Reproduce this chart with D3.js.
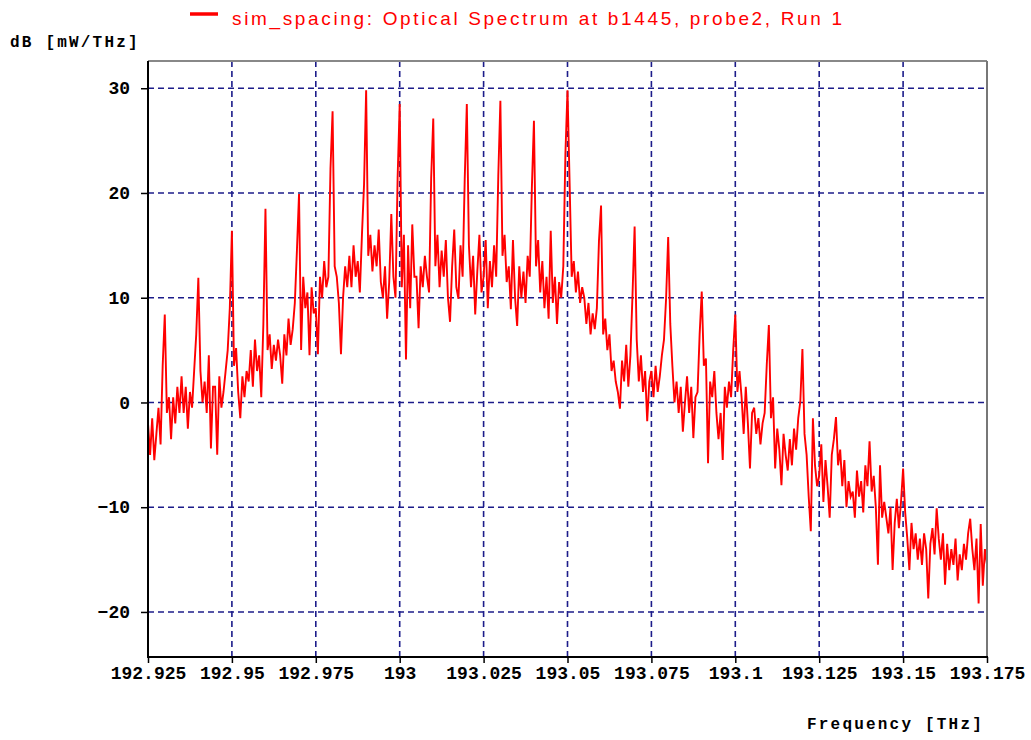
<!DOCTYPE html>
<html>
<head>
<meta charset="utf-8">
<style>
  body { margin: 0; background: #fff; }
  .grid line { stroke: #1c1c8a; stroke-width: 1.6px; stroke-dasharray: 6,4; }
  .axis text { font-family: "Liberation Mono", monospace; font-weight: bold; font-size: 18px; fill: #000; }
  .axis line { stroke: #000; stroke-width: 1.5px; }
  .axis path { display: none; }
  .label { font-family: "Liberation Mono", monospace; font-weight: bold; font-size: 16px; letter-spacing: 2.2px; fill: #000; }
  .title { font-family: "Liberation Sans", Arial, sans-serif; font-size: 19px; fill: #ff0000; }
  .trace { fill: none; stroke: #ff0000; stroke-width: 1.9px; stroke-linejoin: miter; }
</style>
</head>
<body>
<svg width="1031" height="740"></svg>
<script src="https://d3js.org/d3.v7.min.js"></script>
<script>
// frequency grid of the trace (THz)
var freqStart = 192.925,
    freqStep = 0.000625;

// power in dB [mW/THz], 16 samples per 0.01 THz, carrier at the 9th sample of each row
var powerDb = [
  -2, -5, -1.5, -5.5, -3, -0.5, -4, 3.5, 8.4, -1, 0.5, -3.5, 0.5, -2, 1.5, -1,
  2.5, -1, 1.5, -2.5, 1, -0.5, 3, 6.5, 11.9, 3, 0, 2, -1, 4.5, -4.4, 1.5,
  1.5, -5, 2.5, -0.5, 1, 3, 5, 9, 16.4, 3.5, 5.2, 1, -1.5, 2.5, 0.5, 3,
  2, 5, 1.5, 6, 3, 4.5, 0.5, 7.5, 18.5, 5, 6.5, 3.2, 5.5, 4, 6, 4.5,
  1.8, 6.5, 4.5, 8, 5.5, 7, 9.5, 14.5, 19.9, 5, 12, 9, 10.5, 4.5, 11, 8.5,
  9, 4.6, 12, 10, 13.5, 11, 12, 22.3, 27.8, 13, 12, 9.5, 4.6, 10, 13, 11,
  14, 11, 15, 12, 13.5, 10.5, 16, 20.8, 29.8, 14, 16, 12.5, 15, 13, 16.5, 11.5,
  10, 13, 8, 11.5, 18, 12, 10, 21.4, 28.5, 11, 16, 4.1, 15, 9, 17, 12,
  12, 7.1, 13, 11, 14, 12, 10.5, 21.4, 27.1, 13, 16, 11, 14.5, 12, 15.5, 10,
  7.7, 13, 16.5, 11, 9.9, 15, 12, 21.3, 28.5, 15, 11, 14, 8.4, 12.5, 16, 10.5,
  12, 15.5, 9, 13.5, 11, 15, 12, 21.6, 28.8, 14, 16, 11.5, 13, 8.9, 15.5, 10,
  7.3, 13, 10, 12.5, 9.5, 14, 12, 20.4, 26.9, 13, 15.5, 10.5, 13.5, 9, 12, 8,
  16.4, 9.5, 12, 7.5, 11.5, 10, 13, 23.7, 29.8, 21, 12, 13.5, 10.5, 12.5, 9.5, 11,
  10, 7.5, 9.5, 6.5, 8.5, 7, 9, 15.4, 18.8, 6.5, 8, 5, 6.5, 3, 4, 2,
  1, -0.6, 4, 2, 5.5, 1.5, 4.5, 10.3, 16.8, 6, 2, 4.5, 1, 3, -1.8, 2,
  3, 0.5, 3.5, 1, 2.5, 4.5, 6, 9.9, 15.8, 7.5, 3.5, 0, 2, -1, 1.5, -2.8,
  0, 2.5, -1, 1.5, -3.4, 0.5, 1, 6.5, 10.6, 3.5, 4.2, -5.8, 2, 0.5, 3, -1,
  -3.5, -1, -5.5, 1.5, -0.5, 2, 0.5, 5, 8.4, 1, 3, 0.5, -3, 1.5, -2, -6.3,
  -1, -0.5, -3, -1.5, -4, -2, -1, 3.6, 7.4, -1.5, 0.5, -6.3, -2.5, -4.5, -7.9, -3,
  -5, -6.5, -3.5, -6, -2.5, -4.5, -1.5, 0.1, 5.1, -3, -5, -9, -12.3, -1.5, -6, -8,
  -7, -4, -9.5, -5.5, -8, -11, -5, -3.5, -1.4, -6, -4.5, -8, -5.5, -10, -7.5, -9,
  -8.5, -11, -6.5, -9, -7.5, -10.5, -6, -8, -3.7, -8.5, -7, -10, -15.5, -6, -11, -9.5,
  -11, -12.5, -10, -16, -11.5, -9.2, -12, -9.5, -6.3, -10.5, -13, -16, -11.5, -14, -12.5, -15,
  -13, -15.5, -12.5, -14, -18.7, -13.5, -12, -14.5, -10.1, -13, -15, -12.5, -17.4, -13.5, -16, -14,
  -15.5, -13, -17, -14.5, -16, -13.5, -15, -12.5, -11.1, -14, -16, -13, -19.2, -11.6, -17.5, -14,
  -15.5
];

var xTicks = [192.925, 192.95, 192.975, 193, 193.025, 193.05, 193.075, 193.1, 193.125, 193.15, 193.175];
var xTickLabels = ["192.925", "192.95", "192.975", "193", "193.025", "193.05", "193.075", "193.1", "193.125", "193.15", "193.175"];
var yTicks = [-20, -10, 0, 10, 20, 30];

var svg = d3.select("svg");
var plotLeft = 148, plotRight = 987, plotTop = 61, plotBottom = 657;

var x = d3.scaleLinear().domain([192.925, 193.175]).range([plotLeft, plotRight]);
var y = d3.scaleLinear().domain([-24.3, 32.6]).range([plotBottom, plotTop]);

// grid
var grid = svg.append("g").attr("class", "grid");
grid.selectAll(".h").data(yTicks).enter().append("line")
    .attr("x1", plotLeft).attr("x2", plotRight)
    .attr("y1", function(d) { return y(d); }).attr("y2", function(d) { return y(d); });
grid.selectAll(".v").data(xTicks.slice(1, -1)).enter().append("line")
    .attr("y1", plotTop).attr("y2", plotBottom)
    .attr("x1", function(d) { return x(d); }).attr("x2", function(d) { return x(d); });

// trace
svg.append("clipPath").attr("id", "clip").append("rect")
    .attr("x", plotLeft).attr("y", plotTop)
    .attr("width", plotRight - plotLeft).attr("height", plotBottom - plotTop);

var line = d3.line()
    .x(function(d, i) { return x(freqStart + i * freqStep); })
    .y(function(d) { return y(d); });

svg.append("path")
    .datum(powerDb)
    .attr("class", "trace")
    .attr("clip-path", "url(#clip)")
    .attr("d", line);

// frame
svg.append("line").attr("x1", plotLeft).attr("x2", plotRight).attr("y1", plotTop).attr("y2", plotTop)
    .attr("stroke", "#888").attr("stroke-width", 2);
svg.append("line").attr("x1", plotRight).attr("x2", plotRight).attr("y1", plotTop).attr("y2", plotBottom)
    .attr("stroke", "#777").attr("stroke-width", 2);
svg.append("line").attr("x1", plotLeft).attr("x2", plotLeft).attr("y1", plotTop).attr("y2", plotBottom)
    .attr("stroke", "#000").attr("stroke-width", 2);
svg.append("line").attr("x1", plotLeft - 1).attr("x2", plotRight + 1).attr("y1", plotBottom).attr("y2", plotBottom)
    .attr("stroke", "#000").attr("stroke-width", 2);

// axes
svg.append("g")
    .attr("class", "axis")
    .attr("transform", "translate(0," + plotBottom + ")")
    .call(d3.axisBottom(x).tickValues(xTicks).tickSize(6).tickPadding(3)
      .tickFormat(function(d, i) { return xTickLabels[i]; }));

svg.append("g")
    .attr("class", "axis")
    .attr("transform", "translate(" + plotLeft + ",0)")
    .call(d3.axisLeft(y).tickValues(yTicks).tickSize(7).tickPadding(11)
      .tickFormat(d3.format("d")));

// labels
svg.append("text").attr("class", "label").attr("x", 10).attr("y", 47).text("dB [mW/THz]");
svg.append("text").attr("class", "label").attr("x", 807).attr("y", 729).text("Frequency [THz]");

// legend / title
svg.append("line").attr("x1", 190).attr("x2", 218).attr("y1", 14).attr("y2", 14)
    .attr("stroke", "#ff0000").attr("stroke-width", 3.5);
svg.append("text").attr("class", "title")
    .attr("x", 232).attr("y", 25)
    .attr("textLength", 610).attr("lengthAdjust", "spacing")
    .text("sim_spacing: Optical Spectrum at b1445, probe2, Run 1");
</script>
</body>
</html>
